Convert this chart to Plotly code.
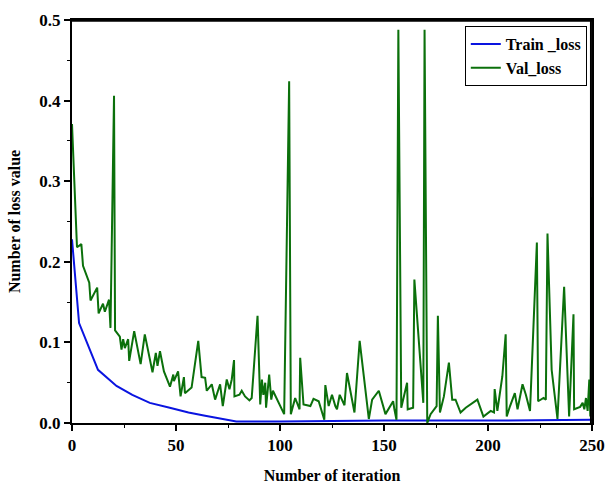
import plotly.graph_objects as go

# Train loss (blue)
train_x = [0, 3.4, 12.5, 21.4, 29, 37.4, 47, 56, 64, 72, 79, 100, 150, 200, 250]
train_y = [0.228, 0.124, 0.066, 0.046, 0.035, 0.025, 0.019, 0.013, 0.009, 0.005, 0.002, 0.002, 0.003, 0.003, 0.004]

# Validation loss (green)
val_x = [0, 2.4, 4.5, 5.3, 8.3, 8.9, 12.1, 12.8, 14.9, 15.8, 17.8, 18.5, 20.2, 20.7, 23, 23.8, 24.6, 25.4, 27,
         27.5, 29.9, 33, 35, 37.4, 38.7, 40.3, 41.1, 42.3, 44.2, 47.1, 48.7, 49, 51, 52.2, 53.8, 54.3, 57.5,
         60.7, 62.3, 64, 64.8, 67.2, 68.8, 71.2, 72.5, 74.4, 75.7, 76.8, 77.9, 78.1, 80.5, 81.6, 83.2, 85.3,
         86.4, 89.2, 90.5, 91.3, 92, 92.9, 93.3, 94.8, 95.8, 96.6, 99.3, 102, 104.4, 105.2, 107.3, 109.4,
         109.7, 111.3, 113, 114.6, 116.1, 118.6, 121.3, 121.8, 123.4, 125, 126.6, 127.4, 128.7, 131, 132.2,
         135.8, 138.3, 142.7, 144.3, 147.5, 150.7, 153.1, 154.4, 155, 156, 156.9, 158.3, 161.1, 161.4, 164,
         164.6, 168.9, 169.5, 170.8, 172.4, 175.3, 175.9, 176.9, 178.8, 181.2, 182.8, 184.4, 186.8, 189.3,
         194.9, 197.8, 201.3, 202.9, 203.2, 204.5, 206.9, 208.5, 209, 210.6, 212.9, 214.2, 216.6, 218.2,
         220.2, 223.5, 224.1, 226.7, 227.8, 228.6, 230.6, 233.4, 236.6, 239, 241.1, 241.4, 244.3, 245.5,
         246.3, 247.1, 247.9, 248.7, 249.2, 250]
val_y = [0.371, 0.218, 0.222, 0.195, 0.174, 0.152, 0.168, 0.136, 0.148, 0.138, 0.153, 0.118, 0.406, 0.115,
         0.107, 0.091, 0.104, 0.093, 0.104, 0.077, 0.114, 0.073, 0.110, 0.079, 0.063, 0.087, 0.071, 0.089,
         0.064, 0.045, 0.060, 0.052, 0.064, 0.033, 0.057, 0.037, 0.044, 0.102, 0.057, 0.056, 0.040, 0.048,
         0.029, 0.048, 0.021, 0.054, 0.042, 0.054, 0.078, 0.033, 0.035, 0.040, 0.033, 0.028, 0.031, 0.133,
         0.023, 0.054, 0.035, 0.050, 0.019, 0.060, 0.029, 0.040, 0.025, 0.011, 0.424, 0.011, 0.031, 0.017,
         0.081, 0.023, 0.022, 0.021, 0.030, 0.027, 0.004, 0.047, 0.021, 0.035, 0.021, 0.017, 0.035, 0.022,
         0.062, 0.013, 0.102, 0.005, 0.029, 0.040, 0.011, 0.021, 0.027, 0.017, 0.004, 0.488, 0.019, 0.050,
         0.017, 0.019, 0.178, 0.025, 0.488, 0.000, 0.011, 0.021, 0.133, 0.013, 0.033, 0.075, 0.029, 0.029,
         0.013, 0.019, 0.029, 0.008, 0.015, 0.013, 0.042, 0.015, 0.058, 0.110, 0.008, 0.021, 0.037, 0.017,
         0.048, 0.035, 0.015, 0.224, 0.027, 0.031, 0.029, 0.235, 0.066, 0.005, 0.169, 0.008, 0.135, 0.017,
         0.020, 0.025, 0.017, 0.031, 0.015, 0.054, 0.008, 0.280]

x_ticks = [0, 50, 100, 150, 200, 250]
x_minor_ticks = [25, 75, 125, 175, 225]
y_ticks = [0.0, 0.1, 0.2, 0.3, 0.4, 0.5]
y_minor_ticks = [0.05, 0.15, 0.25, 0.35, 0.45]
y_tick_labels = ["0.0", "0.1", "0.2", "0.3", "0.4", "0.5"]

x_range = [x_ticks[0], x_ticks[-1]]
y_range = [y_ticks[0], y_ticks[-1]]

serif = "Liberation Serif"
tick_font = dict(family=serif, size=17, color="black", weight="bold")
title_font = dict(family=serif, size=16, color="black", weight="bold")

fig = go.Figure()
fig.add_trace(go.Scatter(x=train_x, y=train_y, mode="lines", name="Train _loss",
                         line=dict(color="#0a14e0", width=2)))
fig.add_trace(go.Scatter(x=val_x, y=val_y, mode="lines", name="Val_loss",
                         line=dict(color="#0b700b", width=2)))

fig.update_layout(
    width=612, height=487,
    margin=dict(l=72, r=20, t=20, b=64, autoexpand=False),
    paper_bgcolor="white", plot_bgcolor="white",
    showlegend=True,
    legend=dict(x=0.99, y=0.985, xanchor="right", yanchor="top",
                bordercolor="black", borderwidth=1, bgcolor="white",
                font=dict(family=serif, size=16, color="black", weight="bold")),
    xaxis=dict(range=x_range, tickvals=x_ticks, showgrid=False, zeroline=False,
               showline=True, linecolor="black", linewidth=2, mirror=True,
               ticks="outside", ticklen=6, tickwidth=2, tickcolor="black",
               tickfont=tick_font, automargin=False,
               minor=dict(tickvals=x_minor_ticks, ticks="outside", ticklen=3, tickwidth=1, tickcolor="black"),
               title=dict(text="Number of iteration", font=title_font)),
    yaxis=dict(range=y_range, tickvals=y_ticks, ticktext=y_tick_labels, showgrid=False, zeroline=False,
               showline=True, linecolor="black", linewidth=2, mirror=True,
               ticks="outside", ticklen=6, tickwidth=2, tickcolor="black",
               tickfont=tick_font, automargin=False,
               minor=dict(tickvals=y_minor_ticks, ticks="outside", ticklen=3, tickwidth=1, tickcolor="black"),
               title=dict(text="Number of loss value", font=title_font)),
    shapes=[
        dict(type="line", xref="paper", yref="paper", x0=0, x1=1, y0=0.998, y1=0.998,
             line=dict(color="black", width=2), layer="above"),
        dict(type="line", xref="paper", yref="paper", x0=0.998, x1=0.998, y0=0, y1=1,
             line=dict(color="black", width=2), layer="above"),
    ],
)

fig.write_html("out.html")
